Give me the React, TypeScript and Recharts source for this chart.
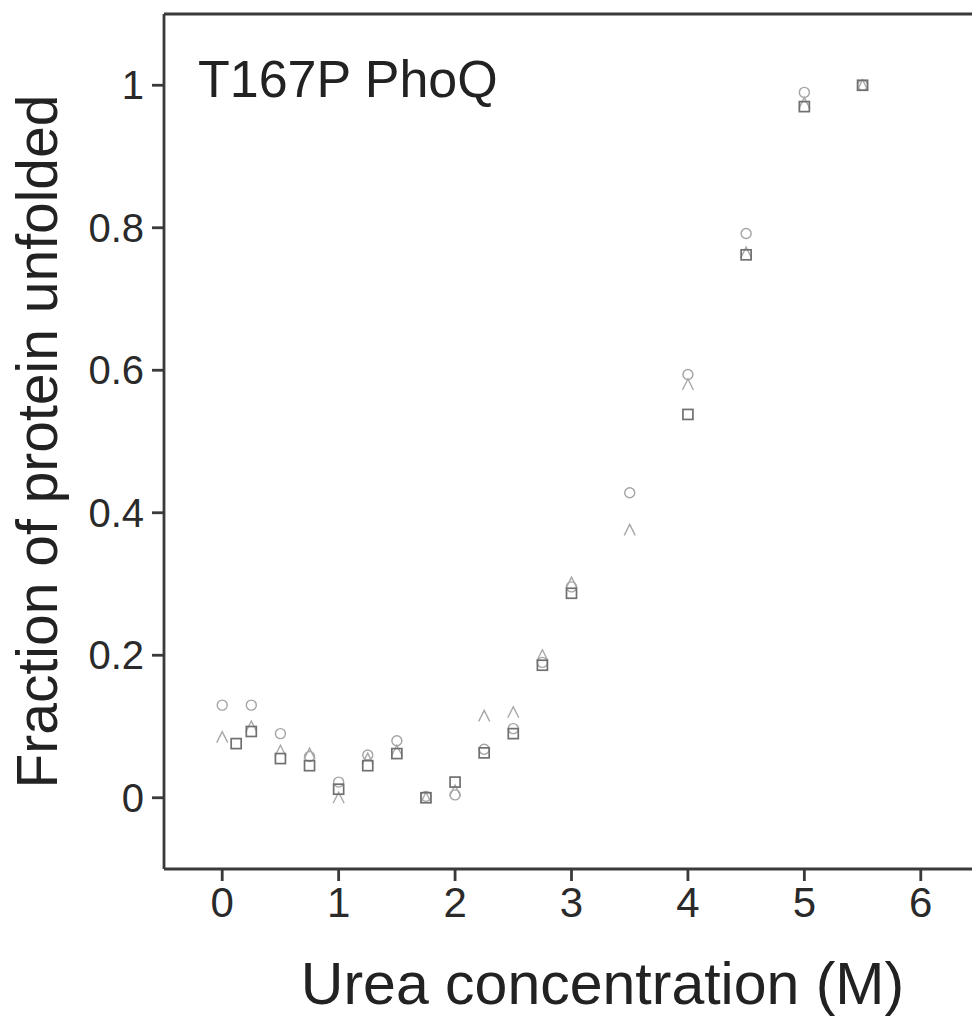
import React from 'react';
import { ScatterChart, Scatter, XAxis, YAxis, ReferenceLine } from 'recharts';

// Urea concentration (M) for circle / triangle replicates
const ureaCT = [0, 0.25, 0.5, 0.75, 1, 1.25, 1.5, 1.75, 2, 2.25, 2.5, 2.75, 3, 3.5, 4, 4.5, 5, 5.5];
const fracCircle = [0.13, 0.13, 0.09, 0.058, 0.022, 0.06, 0.08, 0.002, 0.004, 0.068, 0.097, 0.19, 0.296, 0.428, 0.594, 0.792, 0.99, 1.0];
const fracTriangle = [0.085, 0.1, 0.066, 0.062, 0.0, 0.055, 0.066, 0.0, 0.01, 0.115, 0.12, 0.2, 0.302, 0.376, 0.58, 0.765, 0.975, 1.0];
// Square replicate
const ureaSquare = [0.12, 0.25, 0.5, 0.75, 1, 1.25, 1.5, 1.75, 2, 2.25, 2.5, 2.75, 3, 4, 4.5, 5, 5.5];
const fracSquare = [0.076, 0.093, 0.055, 0.045, 0.012, 0.045, 0.062, 0.0, 0.022, 0.063, 0.09, 0.186, 0.287, 0.538, 0.762, 0.97, 1.0];

const xTicks = [0, 1, 2, 3, 4, 5, 6];
const yTicks = [0, 0.2, 0.4, 0.6, 0.8, 1];

const circleData = ureaCT.map((x, i) => ({ x, y: fracCircle[i] }));
const triangleData = ureaCT.map((x, i) => ({ x, y: fracTriangle[i] }));
const squareData = ureaSquare.map((x, i) => ({ x, y: fracSquare[i] }));

const FONT = '"Liberation Sans", Arial, Helvetica, sans-serif';
const AXIS = '#3a3a3a';

const CircleShape = (p: any) => (
  <circle cx={p.cx} cy={p.cy} r={5} fill="none" stroke="#a4a4a4" strokeWidth={1.4} />
);
const TriangleShape = (p: any) => (
  <polyline
    points={`${p.cx - 5.5},${p.cy + 5.5} ${p.cx},${p.cy - 5.5} ${p.cx + 5.5},${p.cy + 5.5}`}
    fill="none"
    stroke="#a8a8a8"
    strokeWidth={1.4}
  />
);
const SquareShape = (p: any) => (
  <rect x={p.cx - 5} y={p.cy - 5} width={10} height={10} fill="none" stroke="#707070" strokeWidth={1.7} />
);

export default function App() {
  return (
    <div style={{ position: 'fixed', left: 0, top: 0, width: 972, height: 1029, overflow: 'hidden', background: '#fff' }}>
      <ScatterChart width={1010} height={1029} margin={{ top: 14, right: 31, left: 0, bottom: 0 }}>
        <XAxis
          type="number"
          dataKey="x"
          domain={[-0.5, 6.5]}
          ticks={xTicks}
          allowDataOverflow
          height={160}
          stroke={AXIS}
          strokeWidth={2.8}
          tickSize={12}
          tickMargin={6}
          tick={{ fill: '#2a2a2a', fontSize: 42, fontFamily: FONT }}
          label={{
            value: 'Urea concentration (M)',
            position: 'center',
            dx: 31,
            dy: 34,
            style: { fill: '#222', fontSize: 59, fontFamily: FONT },
          }}
        />
        <YAxis
          type="number"
          dataKey="y"
          domain={[-0.1, 1.1]}
          ticks={yTicks}
          allowDataOverflow
          width={164}
          stroke={AXIS}
          strokeWidth={2.8}
          tickSize={12}
          tickMargin={8}
          tick={{ fill: '#2a2a2a', fontSize: 40, fontFamily: FONT }}
          label={{
            value: 'Fraction of protein unfolded',
            angle: -90,
            position: 'center',
            dx: -45,
            style: { fill: '#222', fontSize: 57, fontFamily: FONT },
          }}
        />
        <ReferenceLine y={1.1} stroke={AXIS} strokeWidth={3.2} />
        <ReferenceLine x={6.5} stroke={AXIS} strokeWidth={3} />
        <Scatter data={circleData} shape={CircleShape} isAnimationActive={false} />
        <Scatter data={triangleData} shape={TriangleShape} isAnimationActive={false} />
        <Scatter data={squareData} shape={SquareShape} isAnimationActive={false} />
      </ScatterChart>
      <svg width={972} height={1029} style={{ position: 'absolute', left: 0, top: 0, pointerEvents: 'none' }}>
        <text x={198} y={97} fontSize={52} fontFamily={FONT} fill="#222">
          T167P PhoQ
        </text>
      </svg>
    </div>
  );
}
